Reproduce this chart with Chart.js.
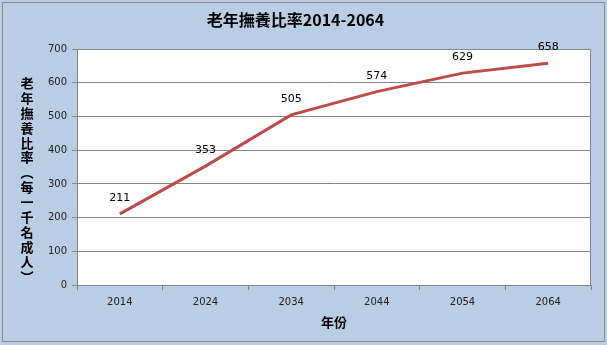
<!DOCTYPE html>
<html>
<head>
<meta charset="utf-8">
<script src="https://cdn.jsdelivr.net/npm/chart.js@4.4.0/dist/chart.umd.min.js"></script>
<style>
  html, body { margin: 0; padding: 0; background: #fff; }
  #wrap { width: 607px; height: 345px; }
</style>
</head>
<body>
<div id="wrap"><canvas id="myChart"></canvas></div>
<script>
// data
const years = ['2014', '2024', '2034', '2044', '2054', '2064'];
const ratios = [211, 353, 505, 574, 629, 658];
const yTicks = [0, 100, 200, 300, 400, 500, 600, 700];
const yTitleChars = ['老', '年', '撫', '養', '比', '率', '︵', '每', '一', '千', '名', '成', '人', '︶'];

const cjk = '"Noto Sans CJK TC", "Noto Sans CJK SC", sans-serif';

// light blue background + frame, white plot area with grey border
const frame = {
    id: 'frame',
    beforeDraw(chart) {
        const c = chart.ctx, a = chart.chartArea;
        c.save();
        c.fillStyle = '#b9cde5';
        c.fillRect(0, 0, chart.width, chart.height);
        c.strokeStyle = '#8c8c8c';
        c.lineWidth = 1;
        c.strokeRect(2.5, 2.5, chart.width - 5, chart.height - 6);
        c.fillStyle = '#ffffff';
        c.fillRect(a.left, a.top, a.right - a.left, a.bottom - a.top);
        c.restore();
    },
    afterDraw(chart) {
        const c = chart.ctx, a = chart.chartArea;
        c.save();
        c.strokeStyle = '#868686';
        c.lineWidth = 1;
        c.beginPath();
        c.moveTo(Math.round(a.right) - 0.5, a.top);
        c.lineTo(Math.round(a.right) - 0.5, a.bottom);
        c.stroke();
        // stacked vertical y title
        c.fillStyle = '#000';
        c.font = 'bold 13px ' + cjk;
        c.textAlign = 'center';
        c.textBaseline = 'middle';
        yTitleChars.forEach((ch, i) => {
            c.fillText(ch, 27, 83 + i * 14.9);
        });
        c.restore();
    }
};

// value labels above the points
const valueLabels = {
    id: 'valueLabels',
    afterDatasetsDraw(chart) {
        const c = chart.ctx;
        const meta = chart.getDatasetMeta(0);
        c.save();
        c.fillStyle = '#000';
        c.font = '11px "DejaVu Sans", sans-serif';
        c.textAlign = 'center';
        c.textBaseline = 'middle';
        meta.data.forEach((pt, i) => {
            c.fillText(String(ratios[i]), pt.x, pt.y - 16);
        });
        c.restore();
    }
};

const ctx = document.getElementById('myChart').getContext('2d');
const myChart = new Chart(ctx, {
    type: 'line',
    data: {
        labels: years,
        datasets: [{
            label: '老年撫養比率',
            data: ratios,
            borderColor: '#be4b48',
            borderWidth: 3,
            pointRadius: 0,
            tension: 0,
            fill: false
        }]
    },
    options: {
        responsive: true,
        maintainAspectRatio: false,
        animation: false,
        layout: { padding: { left: 0, right: 16, top: 0, bottom: 0 } },
        plugins: {
            legend: { display: false },
            tooltip: { enabled: false },
            title: {
                display: true,
                text: '老年撫養比率2014-2064',
                color: '#000',
                font: { family: cjk, size: 16, weight: 'bold', lineHeight: 1.2 },
                padding: { top: 10, bottom: 20 }
            }
        },
        scales: {
            x: {
                offset: true,
                grid: {
                    offset: true,
                    drawOnChartArea: false,
                    drawTicks: true,
                    tickLength: 5,
                    color: '#868686'
                },
                border: { color: '#868686' },
                ticks: {
                    color: '#222',
                    font: { family: '"DejaVu Sans", sans-serif', size: 10 },
                    padding: 6,
                    maxRotation: 0
                },
                title: {
                    display: true,
                    text: '年份',
                    color: '#000',
                    font: { family: cjk, size: 13, weight: 'bold', lineHeight: 1.2 },
                    padding: { top: 0, bottom: 15 }
                },
                afterFit(scale) { scale.height = 60; }
            },
            y: {
                min: 0,
                max: 700,
                afterBuildTicks(scale) { scale.ticks = yTicks.map(v => ({ value: v })); },
                grid: { color: '#868686', tickLength: 5 },
                border: { color: '#868686' },
                ticks: {
                    color: '#222',
                    font: { family: '"DejaVu Sans", sans-serif', size: 10 },
                    padding: 5
                },
                afterFit(scale) { scale.width = 77; }
            }
        }
    },
    plugins: [frame, valueLabels]
});
</script>
</body>
</html>
